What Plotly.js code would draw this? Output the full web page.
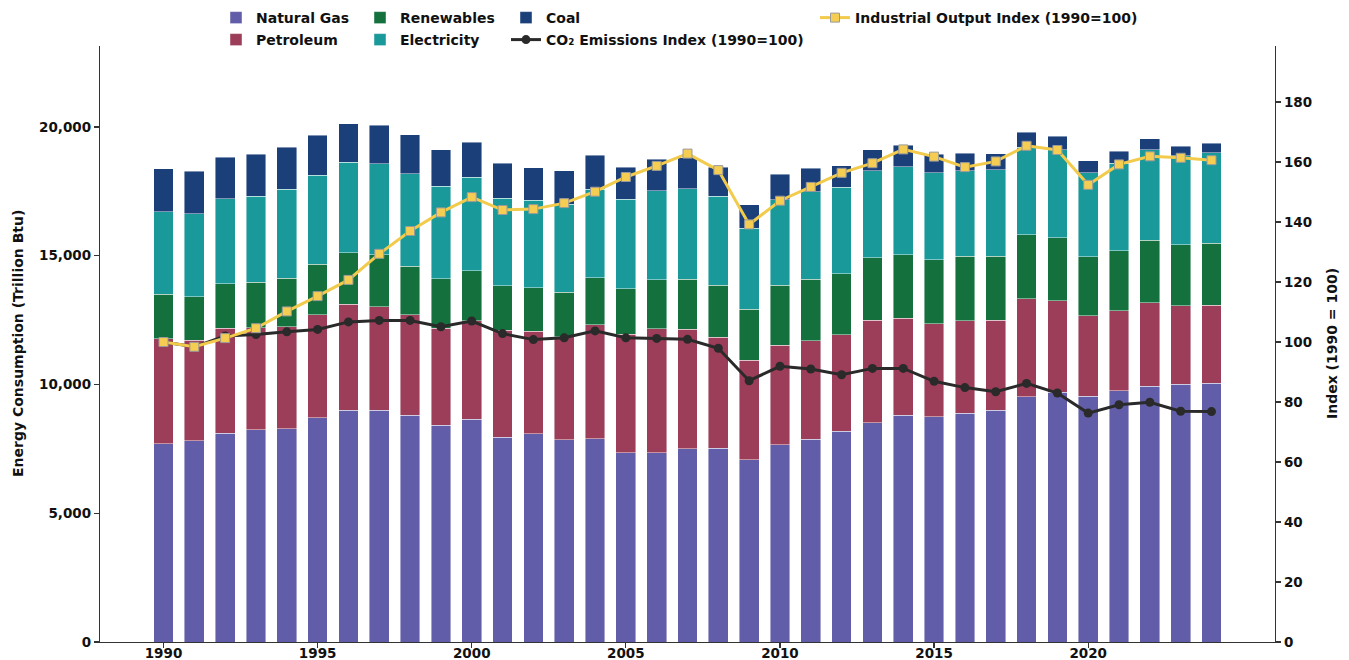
<!DOCTYPE html>
<html>
<head>
<meta charset="utf-8">
<script src="https://cdn.plot.ly/plotly-3.0.1.min.js"></script>
<style>html,body{margin:0;padding:0;background:#fff}#chart{width:1349px;height:660px}</style>
</head>
<body>
<div id="chart"></div>
<script>
const years = [1990,1991,1992,1993,1994,1995,1996,1997,1998,1999,2000,2001,2002,2003,2004,2005,2006,2007,2008,2009,2010,2011,2012,2013,2014,2015,2016,2017,2018,2019,2020,2021,2022,2023,2024];
const naturalGas = [7700,7820,8100,8250,8290,8700,9000,9000,8810,8420,8640,7950,8080,7850,7900,7340,7340,7500,7520,7070,7665,7870,8185,8510,8810,8755,8885,8990,9520,9700,9545,9765,9935,10000,10040];
const petroleum = [4070,3890,4075,3955,3955,4010,4110,4010,3890,3760,3825,4165,3995,4005,4410,4605,4825,4640,4305,3880,3865,3825,3750,3980,3760,3605,3580,3500,3800,3555,3115,3090,3245,3050,3035];
const renewables = [1725,1690,1740,1765,1880,1960,2010,2025,1895,1920,1945,1710,1685,1725,1830,1765,1895,1945,2025,1970,2320,2385,2360,2425,2475,2490,2505,2490,2490,2440,2295,2335,2425,2375,2400];
const electricity = [3215,3220,3305,3335,3450,3460,3515,3540,3580,3605,3630,3400,3400,3425,3450,3490,3465,3515,3450,3140,3320,3400,3370,3375,3400,3370,3335,3360,3400,3425,3270,3410,3500,3450,3530];
const coal = [1675,1650,1595,1635,1635,1555,1490,1490,1515,1415,1360,1375,1260,1295,1310,1230,1220,1195,1130,910,985,910,830,830,845,725,675,620,585,520,455,455,440,375,365];
const co2Index = [100,98.4,102,102.5,103.4,104.2,106.7,107.2,107.2,105.1,107,102.8,100.8,101.4,103.7,101.4,101.2,100.9,97.9,87.1,91.9,91.0,89.1,91.2,91.2,86.9,84.8,83.4,86.2,83.0,76.3,79.1,79.9,76.9,76.8];
const industrialIndex = [100,98.4,101.3,104.6,110.2,115.3,120.7,129.4,137,143.2,148.3,144,144.3,146.3,150.1,155,158.7,162.8,157.3,139.2,147.1,151.7,156.4,159.6,164.2,161.8,158.3,160.2,165.4,164,152.4,159.2,161.9,161.4,160.6];

const leftTicks = [0,5000,10000,15000,20000];
const rightTicks = [0,20,40,60,80,100,120,140,160,180];
const xTicks = [1990,1995,2000,2005,2010,2015,2020];
const leftTitle = 'Energy Consumption (Trillion Btu)';
const rightTitle = 'Index (1990 = 100)';

const FONT = 'DejaVu Sans, Verdana, sans-serif';
const edge = {color:'rgba(255,255,255,0.55)', width:0.8};

function barTrace(name, vals, color, legend){
  return {type:'bar', name:name, x:years, y:vals, legend:legend,
    marker:{color:color, line:edge}, hoverinfo:'x+y+name'};
}

const traces = [
  barTrace('Natural Gas', naturalGas, '#615DA8', 'legend'),
  barTrace('Petroleum', petroleum, '#9C3D59', 'legend2'),
  barTrace('Renewables', renewables, '#14703D', 'legend3'),
  barTrace('Electricity', electricity, '#1A999A', 'legend4'),
  barTrace('Coal', coal, '#1B3F79', 'legend5'),
  {type:'scatter', mode:'lines+markers', name:'CO₂ Emissions Index (1990=100)', x:years, y:co2Index, yaxis:'y2', legend:'legend6',
   line:{color:'#2a2a2a', width:3}, marker:{symbol:'circle', size:9, color:'#2a2a2a'}},
  {type:'scatter', mode:'lines+markers', name:'Industrial Output Index (1990=100)', x:years, y:industrialIndex, yaxis:'y2', legend:'legend7',
   line:{color:'#F2CB4C', width:3}, marker:{symbol:'square', size:9, color:'#F4CD52', line:{color:'#9a9a9a', width:1}}}
];

const W = 1349, H = 660;
const ML = 100, MR = 74, MT = 46, MB = 18;
const PW = W - ML - MR, PH = H - MT - MB;
function leg(textX, rowY){
  return {xref:'container', yref:'container', x:(textX-40)/W, y:1-rowY/H, xanchor:'left', yanchor:'middle',
    orientation:'v', bgcolor:'rgba(0,0,0,0)', borderwidth:0,
    font:{family:FONT, size:14, weight:'bold', color:'#111'}};
}

const axisFont = {family:FONT, size:13.5, weight:'bold', color:'#111'};
const titleFont = {family:FONT, size:14, weight:'bold', color:'#111'};

const layout = {
  width:W, height:H,
  margin:{l:ML, r:MR, t:MT, b:MB, pad:0, autoexpand:false},
  paper_bgcolor:'#fff', plot_bgcolor:'#fff',
  barmode:'stack', bargap:0.36,
  showlegend:true,
  legend: leg(256,18),
  legend2: leg(256,40),
  legend3: leg(400,18),
  legend4: leg(400,40),
  legend5: leg(546,18),
  legend6: leg(546,40),
  legend7: leg(855,18),
  xaxis:{range:[1987.94,2026.06], tickvals:xTicks, ticktext:xTicks.map(String), ticks:'outside', ticklen:5, tickwidth:1.2, tickcolor:'#333',
    ticklabelstandoff:-6,
    showline:true, linecolor:'#333', linewidth:1.2, showgrid:false, zeroline:false, tickfont:axisFont, automargin:false},
  yaxis:{range:[0,23143], tickvals:leftTicks, ticktext:leftTicks.map(v=>v.toLocaleString('en-US')), ticks:'outside', ticklen:5, tickwidth:1.2, tickcolor:'#333',
    showline:true, linecolor:'#333', linewidth:1.2, showgrid:false, zeroline:false, tickfont:axisFont, automargin:false},
  yaxis2:{range:[0,198.67], overlaying:'y', side:'right', tickvals:rightTicks, ticktext:rightTicks.map(String), ticks:'outside', ticklen:5, tickwidth:1.2, tickcolor:'#333',
    showline:true, linecolor:'#333', linewidth:1.2, showgrid:false, zeroline:false, tickfont:axisFont, automargin:false},
  annotations:[
    {text:leftTitle, xref:'paper', yref:'paper', x:(18-ML)/PW, y:0.5, xanchor:'center', yanchor:'middle', textangle:-90, showarrow:false, font:titleFont},
    {text:rightTitle, xref:'paper', yref:'paper', x:(1332-ML)/PW, y:0.5, xanchor:'center', yanchor:'middle', textangle:-90, showarrow:false, font:titleFont}
  ],
  font:{family:FONT}
};

Plotly.newPlot('chart', traces, layout, {displayModeBar:false, staticPlot:true});
</script>
</body>
</html>
